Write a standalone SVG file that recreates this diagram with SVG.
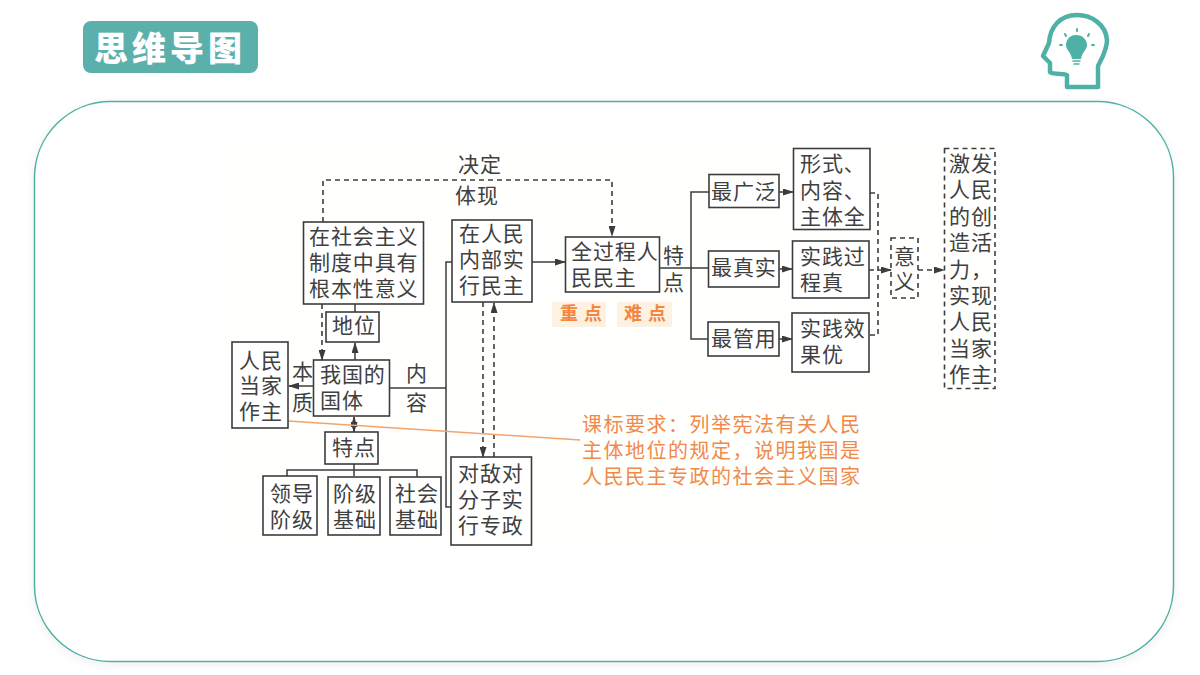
<svg xmlns="http://www.w3.org/2000/svg" width="1200" height="675" viewBox="0 0 1200 675">
<style>
text{font-family:"Noto Sans CJK SC","Noto Sans",sans-serif;font-size:21px;fill:#404040;letter-spacing:.9px}
.b{fill:#fff;stroke:#3c3c3c;stroke-width:1.6}
.d{fill:none;stroke:#3c3c3c;stroke-width:1.6;stroke-dasharray:5 4}
.l{fill:none;stroke:#3c3c3c;stroke-width:1.5}
.o{fill:#f08a4b;font-size:20px;letter-spacing:1.5px}
.t{fill:#f6853f;font-size:18px;font-weight:700;letter-spacing:6px}
.tag{fill:#fdf2e2}
</style>
<defs>
<marker id="a" markerWidth="11" markerHeight="7" refX="10" refY="3.500" orient="auto" markerUnits="userSpaceOnUse"><path d="M0 0L11 3.500L0 7Z" fill="#3c3c3c"/></marker>
<filter id="s" x="-5%" y="-5%" width="110%" height="110%"><feDropShadow dx="0" dy="2" stdDeviation="5" flood-color="#000" flood-opacity=".07"/></filter>
</defs>
<rect width="1200" height="675" fill="#fff"/>
<rect id="panel" x="34.500" y="101.500" width="1139" height="560" rx="76" fill="#fff" stroke="#4fb0a6" stroke-width="1.500" filter="url(#s)"/>
<rect x="215" y="140" width="780" height="410" fill="#fffffd"/>
<g id="title"><rect x="83" y="21" width="175" height="52" rx="8" fill="#5bb0ab"/><text x="94" y="61" style="font-size:34px;font-weight:900;fill:#fff;letter-spacing:4px">思维导图</text></g>
<g id="head-icon" fill="none" stroke="#4fb0a6" stroke-width="4.500" stroke-linejoin="round" stroke-linecap="round">
<path d="M1098 87V66C1102 58 1107 50 1107 40C1106 25 1092 15 1077 15C1060 15 1050 27 1049 43L1043 56L1050 63V72C1052 75 1066 73 1067 75V87Z"/>
<path stroke-width="2" d="M1077 29V31M1065 34L1066 36M1089 34L1088 36M1060 45H1062M1092 45H1094"/>
<path fill="#4fb0a6" stroke="none" d="M1076 35C1068 35 1066 42 1066 45C1066 50 1071 52 1072 59H1081C1082 52 1087 50 1087 45C1087 40 1083 35 1076 35Z"/>
<path stroke-width="1.500" d="M1073 61H1080M1074 64H1079"/>
</g>
<g id="connectors">
<path class="d" d="M323 222V180H612V236" marker-end="url(#a)"/>
<path class="d" d="M322 304V360" marker-end="url(#a)"/>
<path class="l" d="M355 304V312"/>
<path class="l" d="M355 360V343" marker-end="url(#a)"/>
<path class="l" d="M313 386H289" marker-end="url(#a)"/>
<path class="l" d="M354 432V417" marker-end="url(#a)"/>
<path class="l" d="M354 424V432" marker-end="url(#a)"/>
<path class="l" d="M354 464V476M287 476V470H417V477"/>
<path class="l" d="M390 388H446M452 262H446V507H451"/>
<path class="d" d="M483 302V457" marker-end="url(#a)"/>
<path class="d" d="M494 457V303" marker-end="url(#a)"/>
<path class="l" d="M532 262H565" marker-end="url(#a)"/>
<path class="l" d="M659 268H708M709 192H691V339H708"/>
<path class="l" d="M779 192H793" marker-end="url(#a)"/>
<path class="l" d="M779 269H792" marker-end="url(#a)"/>
<path class="l" d="M779 339H792" marker-end="url(#a)"/>
<path class="d" d="M870 193H878V335H869M869 270H891" marker-end="url(#a)"/>
<path class="d" d="M918 270H944" marker-end="url(#a)"/>
<path d="M288 421L580 440" fill="none" stroke="#f5a36d" stroke-width="1.500"/>
</g>
<g id="n-decide"><text x="458" y="172">决定</text></g>
<g id="n-reflect"><text x="455" y="203">体现</text></g>
<g id="n-significance"><rect class="b" x="303.500" y="222" width="120" height="82"/><text x="309" y="244">在社会主义<tspan x="309" y="270">制度中具有</tspan><tspan x="309" y="296">根本性意义</tspan></text></g>
<g id="n-internal"><rect class="b" x="452" y="220" width="80" height="82"/><text x="459" y="241">在人民<tspan x="459" y="267">内部实</tspan><tspan x="459" y="293">行民主</tspan></text></g>
<g id="n-status"><rect class="b" x="326" y="312" width="53" height="30"/><text x="332" y="333">地位</text></g>
<g id="n-people"><rect class="b" x="232" y="342" width="56" height="86"/><text x="239" y="368">人民<tspan x="239" y="393">当家</tspan><tspan x="239" y="419">作主</tspan></text></g>
<text x="292" y="379">本<tspan x="292" y="410">质</tspan></text>
<g id="n-state"><rect class="b" x="313.500" y="360" width="76" height="56"/><text x="320" y="382">我国的<tspan x="320" y="408">国体</tspan></text></g>
<text x="406" y="381">内<tspan x="406" y="410">容</tspan></text>
<g id="n-feature"><rect class="b" x="325" y="432" width="53" height="32"/><text x="332" y="455">特点</text></g>
<g id="n-leader"><rect class="b" x="263" y="476" width="54" height="59"/><text x="270" y="501">领导<tspan x="270" y="527">阶级</tspan></text></g>
<g id="n-class"><rect class="b" x="328" y="477" width="52" height="58"/><text x="333" y="501">阶级<tspan x="333" y="527">基础</tspan></text></g>
<g id="n-social"><rect class="b" x="390" y="477" width="51" height="58"/><text x="395" y="501">社会<tspan x="395" y="527">基础</tspan></text></g>
<g id="n-enemy"><rect class="b" x="451" y="457" width="80.500" height="88"/><text x="458" y="481">对敌对<tspan x="458" y="507">分子实</tspan><tspan x="458" y="533">行专政</tspan></text></g>
<g id="n-whole"><rect class="b" x="565.500" y="237" width="94" height="55"/><text x="571" y="259">全过程人<tspan x="571" y="285">民民主</tspan></text></g>
<text x="663" y="263">特<tspan x="663" y="290">点</tspan></text>
<g id="n-broad"><rect class="b" x="709" y="174.500" width="70" height="33"/><text x="711" y="199">最广泛</text></g>
<g id="n-form"><rect class="b" x="793.500" y="148.500" width="76.500" height="81"/><text x="800" y="171">形式、<tspan x="800" y="198">内容、</tspan><tspan x="800" y="224">主体全</tspan></text></g>
<g id="n-real"><rect class="b" x="708.500" y="251" width="70.500" height="36"/><text x="711" y="275">最真实</text></g>
<g id="n-process"><rect class="b" x="792.500" y="241" width="76.500" height="57"/><text x="800" y="264">实践过<tspan x="800" y="290">程真</tspan></text></g>
<g id="n-useful"><rect class="b" x="708" y="322" width="71" height="34"/><text x="711" y="346">最管用</text></g>
<g id="n-effect"><rect class="b" x="792" y="313" width="77" height="59"/><text x="800" y="336">实践效<tspan x="800" y="362">果优</tspan></text></g>
<g id="n-meaning"><rect class="d" x="891" y="238" width="27" height="60"/><text x="894" y="264">意<tspan x="894" y="289">义</tspan></text></g>
<g id="n-result"><rect class="d" x="944.500" y="148.500" width="50.500" height="240"/><text x="949" y="171">激发<tspan x="949" y="197">人民</tspan><tspan x="949" y="224">的创</tspan><tspan x="949" y="250">造活</tspan><tspan x="949" y="277">力，</tspan><tspan x="949" y="303">实现</tspan><tspan x="949" y="329">人民</tspan><tspan x="949" y="356">当家</tspan><tspan x="949" y="382">作主</tspan></text></g>
<g id="tag1"><rect class="tag" x="552" y="302" width="54" height="25"/><text class="t" x="560" y="320">重点</text></g>
<g id="tag2"><rect class="tag" x="617" y="302" width="55" height="25"/><text class="t" x="624" y="320">难点</text></g>
<g id="requirement"><text class="o" x="582" y="432">课标要求：列举宪法有关人民<tspan x="582" y="458">主体地位的规定，说明我国是</tspan><tspan x="582" y="484">人民民主专政的社会主义国家</tspan></text></g>
</svg>
